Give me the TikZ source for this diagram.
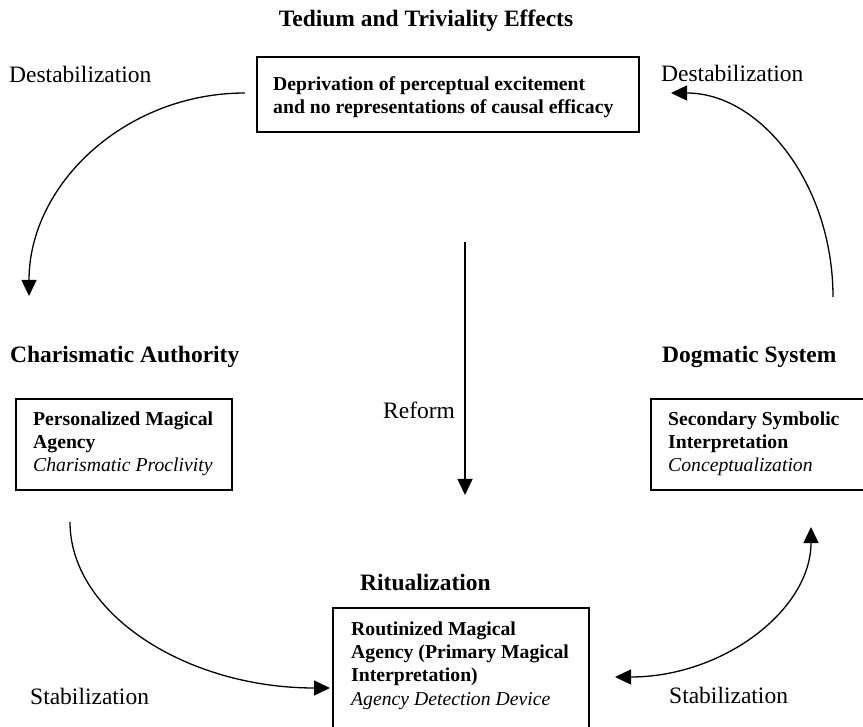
\documentclass[tikz,border=0pt]{standalone}
\usepackage{fontspec}
\setmainfont{Liberation Serif}
\usetikzlibrary{arrows.meta}
\begin{document}
\begin{tikzpicture}[x=1pt,y=-1pt,
  lab/.style={anchor=base west, inner sep=0pt, font=\fontsize{23.5}{28}\selectfont},
  head/.style={lab, font=\fontsize{23.5}{28}\selectfont\bfseries},
  boxframe/.style={draw, line width=1.6pt, anchor=north west, inner sep=0pt},
  boxtext/.style={anchor=north west, inner sep=0pt, align=left, font=\fontsize{19.7}{23.3}\selectfont\bfseries},
  conn/.style={line width=1.3pt, -{Triangle[width=15pt,length=16pt]}},
  conn2/.style={line width=1.3pt, {Triangle[width=15pt,length=16pt]}-{Triangle[width=15pt,length=16pt]}}
]
\useasboundingbox (0,0) rectangle (863,727);

% headings and labels
\node[head, anchor=base] (t1) at (426,27) {Tedium and Triviality Effects};
\node[lab] (d1) at (9,83) {Destabilization};
\node[lab] (d2) at (661,82) {Destabilization};
\node[head] (ca) at (10,363) {Charismatic Authority};
\node[head] (ds) at (662,363) {Dogmatic System};
\node[lab] (rf) at (383,419) {Reform};
\node[head] (ri) at (360,590) {Ritualization};
\node[lab] (s1) at (30,704) {Stabilization};
\node[lab] (s2) at (669,703) {Stabilization};

% boxes
\node[boxframe, minimum width=382pt, minimum height=75pt] (topbox) at (256,56) {};
\node[boxtext] (toptext) at (273,74) {\rule{0pt}{16pt}Deprivation of perceptual excitement\\and no representations of causal efficacy};

\node[boxframe, minimum width=216pt, minimum height=91pt] (leftbox) at (15,398) {};
\node[boxtext] (lefttext) at (33,409) {\rule{0pt}{16pt}Personalized Magical\\Agency\\{\mdseries\itshape Charismatic Proclivity}};

\node[boxframe, minimum width=213pt, minimum height=91pt] (rightbox) at (650,398) {};
\node[boxtext] (righttext) at (668,409) {\rule{0pt}{16pt}Secondary Symbolic\\Interpretation\\{\mdseries\itshape Conceptualization}};

\node[boxframe, minimum width=256pt, minimum height=140pt] (botbox) at (332,607) {};
\node[boxtext] (bottext) at (351,619) {\rule{0pt}{16pt}Routinized Magical\\Agency (Primary Magical\\Interpretation)\\{\mdseries\itshape Agency Detection Device}};

% connector end points
\coordinate (a1s) at (245,93);  \coordinate (a1e) at (29,296);
\coordinate (a2s) at (833,297); \coordinate (a2e) at (671,93);
\coordinate (a3s) at (465,242); \coordinate (a3e) at (465,495);
\coordinate (a4s) at (70,522);  \coordinate (a4e) at (330,688);
\coordinate (a5s) at (615,677); \coordinate (a5e) at (811,527);

% connectors
\draw[conn] (a1s) .. controls (125.7,93) and (29,183.9) .. (a1e);
\draw[conn] (a2s) .. controls (833,184.3) and (760.5,93) .. (a2e);
\draw[conn, line width=1.5pt] (a3s) -- (a3e);
\draw[conn] (a4s) .. controls (70,613.7) and (186.4,688) .. (a4e);
\draw[conn2] (a5s) .. controls (723.3,677) and (811,609.8) .. (a5e);
\end{tikzpicture}
\end{document}
